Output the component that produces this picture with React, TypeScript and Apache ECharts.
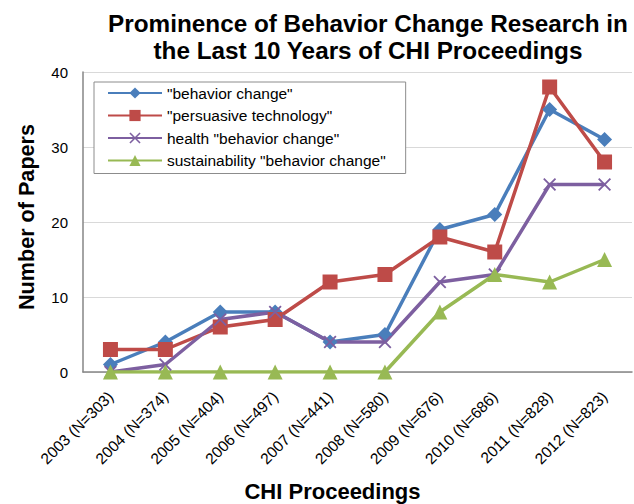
import React, { useEffect, useRef } from "react";
import * as echarts from "echarts";

const categories = [
  "2003 (N=303)",
  "2004 (N=374)",
  "2005 (N=404)",
  "2006 (N=497)",
  "2007 (N=441)",
  "2008 (N=580)",
  "2009 (N=676)",
  "2010 (N=686)",
  "2011 (N=828)",
  "2012 (N=823)",
];

const behaviorChange = [1, 4, 8, 8, 4, 5, 19, 21, 35, 31];
const persuasiveTechnology = [3, 3, 6, 7, 12, 13, 18, 16, 38, 28];
const healthBehaviorChange = [0, 1, 7, 8, 4, 4, 12, 13, 25, 25];
const sustainabilityBehaviorChange = [0, 0, 0, 0, 0, 0, 8, 13, 12, 15];

const seriesNames = [
  '"behavior change"',
  '"persuasive technology"',
  'health "behavior change"',
  'sustainability "behavior change"',
];

const FONT = "'Liberation Sans', Arial, Helvetica, sans-serif";
const CROSS =
  "path://M0,1 L1,0 L5,4 L9,0 L10,1 L6,5 L10,9 L9,10 L5,6 L1,10 L0,9 L4,5 Z";

export default function App() {
  const ref = useRef<HTMLDivElement>(null);

  useEffect(() => {
    if (!ref.current) return;
    const chart = echarts.init(ref.current, undefined, { renderer: "svg" });
    const mk = (
      name: string,
      data: number[],
      color: string,
      symbol: string,
      symbolSize: number
    ) => ({
      name,
      type: "line",
      data,
      symbol,
      symbolSize,
      showAllSymbol: true,
      lineStyle: { color, width: 3.5 },
      itemStyle: { color, borderWidth: 0 },
      emphasis: { disabled: true },
    });

    chart.setOption({
      animation: false,
      textStyle: { fontFamily: FONT },
      title: {
        text: "Prominence of Behavior Change Research in\nthe Last 10 Years of CHI Proceedings",
        left: 363,
        top: 5,
        textAlign: "center",
        textStyle: {
          fontFamily: FONT,
          fontSize: 24.3,
          fontWeight: "bold",
          color: "#000",
          lineHeight: 27,
        },
      },
      legend: {
        orient: "vertical",
        left: 94,
        top: 82,
        padding: [3, 20, 5, 13],
        itemGap: 6.5,
        itemWidth: 54,
        itemHeight: 14,
        backgroundColor: "#fff",
        borderColor: "#8c8c8c",
        borderWidth: 1,
        textStyle: {
          fontFamily: FONT,
          fontSize: 15.5,
          color: "#000",
        },
        data: seriesNames,
      },
      grid: {
        left: 83,
        right: 2,
        top: 72,
        bottom: 132,
        containLabel: false,
        outerBoundsMode: "none",
      },
      xAxis: {
        type: "category",
        data: categories,
        boundaryGap: true,
        name: "CHI Proceedings",
        nameLocation: "middle",
        nameGap: 108,
        nameTextStyle: {
          fontFamily: FONT,
          fontSize: 22,
          fontWeight: "bold",
          color: "#000",
          padding: [0, 50, 0, 0],
        },
        axisLine: { lineStyle: { color: "#868686", width: 1.5 } },
        axisTick: { show: false },
        axisLabel: {
          rotate: 45,
          margin: 22,
          fontSize: 15.5,
          color: "#000",
          fontFamily: FONT,
          interval: 0,
        },
      },
      yAxis: {
        type: "value",
        min: 0,
        max: 40,
        interval: 10,
        name: "Number of Papers",
        nameLocation: "middle",
        nameRotate: 90,
        nameGap: 46,
        nameTextStyle: {
          fontFamily: FONT,
          fontSize: 21.6,
          fontWeight: "bold",
          color: "#000",
          padding: [0, 0, 0, 10],
        },
        axisLine: { show: true, lineStyle: { color: "#868686", width: 1.5 } },
        axisTick: { show: false },
        splitLine: { lineStyle: { color: "#d9d9d9", width: 1 } },
        axisLabel: {
          fontSize: 15,
          color: "#000",
          fontFamily: FONT,
          margin: 15,
        },
      },
      series: [
        mk(seriesNames[0], behaviorChange, "#4A7EBB", "diamond", 15),
        mk(seriesNames[1], persuasiveTechnology, "#BE4B48", "rect", 15),
        mk(seriesNames[2], healthBehaviorChange, "#7D5FA0", CROSS, 13),
        mk(seriesNames[3], sustainabilityBehaviorChange, "#98B954", "triangle", 15),
      ],
    });
    return () => chart.dispose();
  }, []);

  return (
    <div
      ref={ref}
      style={{
        position: "fixed",
        left: 0,
        top: 0,
        width: 634,
        height: 504,
        background: "#fff",
      }}
    />
  );
}
